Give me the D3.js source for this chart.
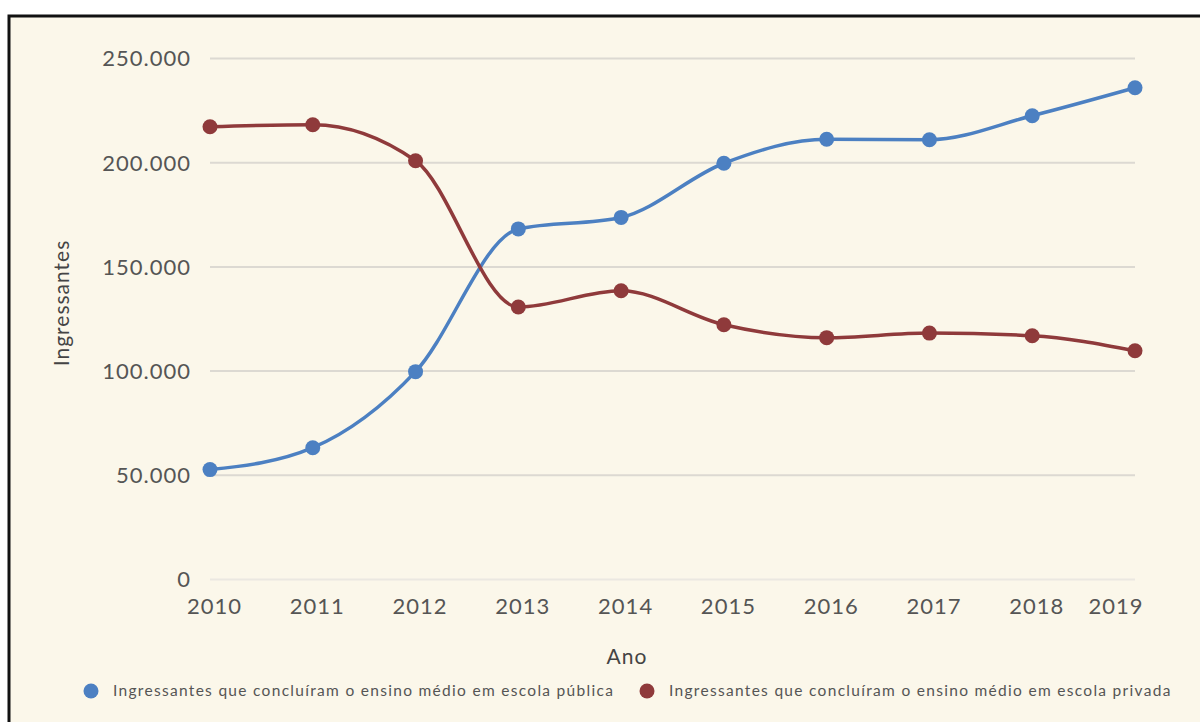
<!DOCTYPE html>
<html>
<head>
<meta charset="utf-8">
<script src="https://cdn.jsdelivr.net/npm/d3@7"></script>
<style>
  html, body { margin: 0; padding: 0; background: #fff; }
  svg { display: block; font-family: Lato, "Open Sans", sans-serif; }
</style>
</head>
<body>
<svg id="chart"></svg>
<script>
// data
const years = [2010, 2011, 2012, 2013, 2014, 2015, 2016, 2017, 2018, 2019];
const publica = [52500, 63000, 99500, 168000, 173500, 199500, 211000, 210800, 222300, 235700];
const privada = [217000, 218000, 200700, 130500, 138300, 122000, 115800, 118000, 116700, 109500];
const yTicks = [0, 50000, 100000, 150000, 200000, 250000];
const seriesNames = [
  'Ingressantes que concluíram o ensino médio em escola pública',
  'Ingressantes que concluíram o ensino médio em escola privada'
];
const seriesColors = ['#4c80c2', '#8f3a3b'];

const width = 1200;
const height = 722;
const margin = { left: 210, right: 65, top: 58, bottom: 143 };
const fontFamily = 'Lato, "Open Sans", sans-serif';

const svg = d3.select('#chart')
  .attr('width', width)
  .attr('height', height);

// cream panel with the black frame (right/bottom edges fall off the picture)
svg.append('rect')
  .attr('x', 9).attr('y', 16)
  .attr('width', width + 10).attr('height', height + 10)
  .attr('fill', '#fbf7ea')
  .attr('stroke', '#111')
  .attr('stroke-width', 3);

const x = d3.scalePoint()
  .domain(years)
  .range([margin.left, width - margin.right]);

const y = d3.scaleLinear()
  .domain([0, 250000])
  .range([height - margin.bottom, margin.top]);

const fmt = d => d3.format(',')(d).replace(/,/g, '.');

// gridlines + y labels
const yAxis = svg.append('g')
  .attr('transform', `translate(${margin.left},0)`)
  .call(d3.axisLeft(y).tickValues(yTicks).tickFormat(fmt)
    .tickSize(-(width - margin.left - margin.right)).tickPadding(19))
  .attr('font-family', fontFamily);
yAxis.select('.domain').remove();
yAxis.selectAll('.tick line')
  .attr('stroke', d => d === 0 ? '#ebe8e1' : '#dcd9d2')
  .attr('stroke-width', 2);
yAxis.selectAll('.tick text')
  .attr('fill', '#555')
  .attr('dy', '0.36em')
  .style('font-size', '22px')
  .style('letter-spacing', '1px');

// x labels
const xAxis = svg.append('g')
  .attr('transform', `translate(0,${height - margin.bottom})`)
  .call(d3.axisBottom(x).tickSize(0).tickPadding(19))
  .attr('font-family', fontFamily);
xAxis.select('.domain').remove();
xAxis.selectAll('.tick text')
  .attr('fill', '#555')
  .style('font-size', '22px')
  .style('letter-spacing', '1px')
  .attr('dx', 4);
// last label is pulled in so it stays inside the plot
xAxis.selectAll('.tick text').filter(d => d === years[years.length - 1])
  .attr('text-anchor', 'end').attr('dx', 8);

// axis titles
svg.append('text')
  .attr('x', 627).attr('y', 664)
  .attr('text-anchor', 'middle')
  .attr('fill', '#444')
  .style('font-size', '21px')
  .style('letter-spacing', '1px')
  .text('Ano');

svg.append('text')
  .attr('transform', 'translate(69,303) rotate(-90)')
  .attr('text-anchor', 'middle')
  .attr('fill', '#444')
  .style('font-size', '21px')
  .style('letter-spacing', '1px')
  .text('Ingressantes');

// lines + dots
const line = d3.line()
  .x((d, i) => x(years[i]))
  .y(d => y(d))
  .curve(d3.curveMonotoneX);

[publica, privada].forEach((values, s) => {
  const g = svg.append('g');
  g.append('path')
    .datum(values)
    .attr('d', line)
    .attr('fill', 'none')
    .attr('stroke', seriesColors[s])
    .attr('stroke-width', 3.5);
  g.selectAll('circle')
    .data(values)
    .enter().append('circle')
    .attr('cx', (d, i) => x(years[i]))
    .attr('cy', d => y(d))
    .attr('r', 7.5)
    .attr('fill', seriesColors[s]);
});

// legend
const legendX = [91, 647];
const legend = svg.append('g');
seriesNames.forEach((name, i) => {
  legend.append('circle')
    .attr('cx', legendX[i]).attr('cy', 691)
    .attr('r', 7.5)
    .attr('fill', seriesColors[i]);
  legend.append('text')
    .attr('x', legendX[i] + 22).attr('y', 696)
    .attr('fill', '#555')
    .style('font-size', '15.5px')
    .style('letter-spacing', '1.3px')
    .text(name);
});
</script>
</body>
</html>
